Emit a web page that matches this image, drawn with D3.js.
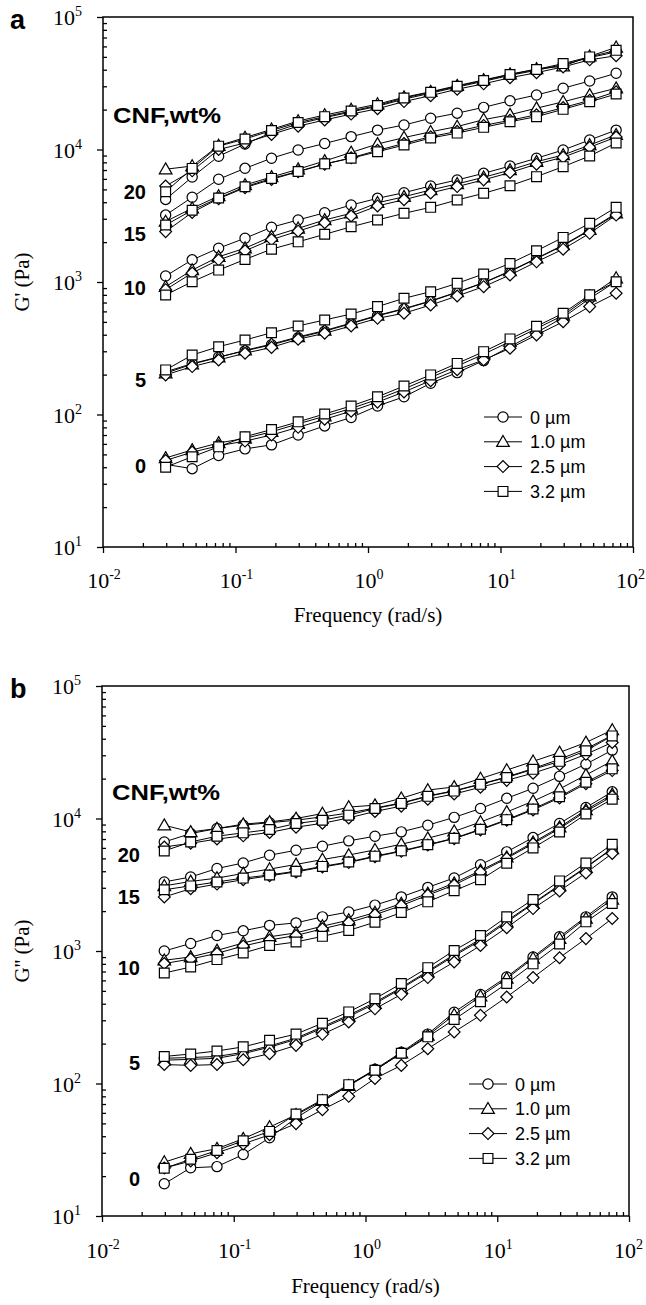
<!DOCTYPE html>
<html>
<head>
<meta charset="utf-8">
<script src="https://cdn.jsdelivr.net/npm/d3@7"></script>
<style>
  body { margin: 0; background: #fff; }
  svg { display: block; }
</style>
</head>
<body>
<svg id="chart" width="646" height="1305"></svg>
<script>
// Angular frequency of the sweep (rad/s), five points per decade
const freq = [0.0297, 0.0471, 0.0746, 0.118, 0.187, 0.297, 0.471, 0.746, 1.18, 1.87,
              2.97, 4.71, 7.46, 11.8, 18.7, 29.7, 47.1, 74.6];

// Particle sizes (series order: circle, triangle, diamond, square)
const sizes = ["0 \u00b5m", "1.0 \u00b5m", "2.5 \u00b5m", "3.2 \u00b5m"];
const shapes = ["circle", "triangle", "diamond", "square"];

// CNF concentration labels, wt%
const cnfLabels = ["0", "5", "10", "15", "20"];

// Axis tick exponents
const xExponents = [-2, -1, 0, 1, 2];
const yExponents = [1, 2, 3, 4, 5];

// Storage modulus G' (Pa): [0 µm, 1.0 µm, 2.5 µm, 3.2 µm]
const storageCNF0 = [
  [42, 39, 49, 55, 59, 70, 82, 95, 116, 136, 172, 207, 255, 325, 415, 540, 750, 1010],
  [47, 54, 61, 66, 74, 85, 97, 111, 130, 156, 190, 232, 285, 355, 445, 560, 780, 1070],
  [45, 52, 58, 63, 70, 80, 92, 106, 124, 148, 180, 218, 258, 316, 398, 501, 652, 822],
  [40, 48, 57, 68, 77, 88, 101, 116, 136, 164, 199, 243, 298, 372, 463, 581, 800, 1005]
];
const storageCNF5 = [
  [210, 242, 272, 302, 336, 380, 425, 485, 555, 625, 715, 835, 985, 1200, 1500, 1880, 2450, 3250],
  [205, 240, 270, 305, 340, 385, 430, 490, 560, 630, 720, 840, 990, 1210, 1510, 1900, 2480, 3300],
  [199, 230, 258, 290, 321, 370, 410, 466, 532, 581, 670, 784, 922, 1130, 1420, 1770, 2330, 3200],
  [217, 281, 325, 365, 414, 466, 517, 573, 652, 753, 845, 977, 1150, 1380, 1720, 2170, 2770, 3660]
];
const storageCNF10 = [
  [1110, 1470, 1800, 2140, 2590, 2940, 3330, 3810, 4280, 4720, 5310, 5890, 6610, 7500, 8590, 9910, 11800, 14000],
  [922, 1230, 1550, 1800, 2200, 2540, 2940, 3300, 3960, 4400, 4950, 5500, 6170, 7000, 8090, 9090, 10800, 12900],
  [875, 1170, 1470, 1720, 2090, 2420, 2800, 3150, 3750, 4180, 4700, 5250, 5900, 6700, 7750, 8750, 10400, 12400],
  [798, 1005, 1230, 1480, 1770, 2010, 2290, 2610, 2940, 3300, 3660, 4160, 4670, 5330, 6240, 7420, 8930, 11200]
];
const storageCNF15 = [
  [3200, 4360, 5960, 7210, 8590, 9910, 11100, 12500, 14000, 15300, 17200, 18800, 20800, 23300, 25800, 29000, 32900, 37600],
  [2860, 3600, 4450, 5400, 6200, 7100, 8200, 9500, 11000, 12300, 13600, 14900, 16800, 18300, 20500, 22900, 25800, 29000],
  [2400, 3350, 4250, 5150, 5950, 6800, 7750, 8650, 9850, 11100, 12500, 13700, 15200, 16600, 18300, 20700, 23500, 27300],
  [2690, 3480, 4300, 5230, 6050, 6830, 7790, 8590, 9620, 10800, 12200, 13300, 14700, 16200, 17700, 20100, 22900, 26200]
];
const storageCNF20 = [
  [4200, 6200, 8900, 11000, 13400, 15600, 17400, 19200, 21200, 24000, 26600, 29600, 32700, 36300, 39600, 43700, 49400, 54500],
  [7100, 7500, 10700, 12300, 14200, 16400, 18200, 20000, 22000, 24800, 27300, 30300, 33500, 37000, 40500, 42500, 50500, 59000],
  [5300, 6900, 10000, 11200, 13000, 15000, 16700, 18500, 20300, 23000, 25500, 28500, 31300, 34800, 38000, 42000, 47500, 51000],
  [4800, 7200, 10600, 12000, 13900, 16000, 17700, 19500, 21500, 24500, 27000, 30000, 33200, 36800, 40200, 44500, 50000, 56000]
];

// Loss modulus G'' (Pa): [0 µm, 1.0 µm, 2.5 µm, 3.2 µm]
const lossCNF0 = [
  [17.5, 23.1, 23.6, 29.1, 38.9, 55, 73, 97, 128, 172, 236, 345, 470, 637, 902, 1280, 1810, 2560],
  [25.5, 29.5, 32.2, 38.3, 46.9, 58, 74, 96, 126, 169, 230, 330, 455, 620, 880, 1240, 1760, 2450],
  [23, 26, 30, 35, 41, 49.8, 63.4, 80, 109, 137, 183, 245, 327, 450, 630, 890, 1240, 1760],
  [22.9, 26.8, 31.2, 37, 43.5, 58.8, 75.5, 98, 126, 169, 225, 304, 414, 569, 800, 1130, 1660, 2280]
];
const lossCNF5 = [
  [155, 157, 160, 172, 192, 220, 268, 328, 410, 530, 705, 940, 1230, 1690, 2300, 3150, 4300, 5950],
  [150, 152, 155, 168, 188, 215, 262, 320, 400, 520, 690, 920, 1200, 1650, 2270, 3100, 4250, 5900],
  [139, 137, 139, 151, 168, 194, 235, 291, 366, 471, 630, 826, 1100, 1500, 2090, 2840, 3880, 5450],
  [160, 167, 176, 189, 212, 236, 285, 347, 436, 568, 749, 1010, 1310, 1810, 2450, 3380, 4620, 6400]
];
const lossCNF10 = [
  [1000, 1140, 1310, 1420, 1560, 1630, 1810, 1970, 2220, 2560, 3020, 3560, 4480, 5600, 7180, 9170, 12100, 15900],
  [851, 902, 1010, 1150, 1280, 1370, 1540, 1710, 1950, 2280, 2720, 3250, 4050, 5100, 6600, 8600, 11600, 15200],
  [804, 870, 960, 1090, 1210, 1310, 1470, 1640, 1880, 2200, 2640, 3150, 3950, 5000, 6450, 8400, 11300, 14700],
  [682, 757, 861, 966, 1100, 1170, 1290, 1430, 1650, 1950, 2350, 2850, 3450, 4600, 6000, 7900, 10800, 14000]
];
const lossCNF15 = [
  [3320, 3620, 4190, 4620, 5280, 5760, 6180, 6780, 7350, 7930, 8900, 10200, 11900, 14200, 16900, 20800, 25700, 32800],
  [3100, 3350, 3550, 3850, 4150, 4500, 4900, 5300, 5800, 6400, 7100, 8000, 9400, 11200, 13500, 16700, 21300, 27200],
  [2560, 2950, 3200, 3450, 3700, 3950, 4300, 4650, 5150, 5650, 6300, 7050, 8200, 9700, 11600, 14300, 18300, 23000],
  [2900, 3100, 3320, 3550, 3750, 4000, 4350, 4700, 5200, 5700, 6350, 7100, 8300, 9800, 11800, 14600, 18800, 23700]
];
const lossCNF20 = [
  [6650, 7700, 8400, 8900, 9300, 9700, 10300, 11000, 12000, 13100, 14800, 16200, 18200, 20600, 23800, 28000, 33500, 42500],
  [8900, 7920, 8400, 9060, 9420, 10000, 10900, 12200, 12600, 14200, 16400, 17300, 20000, 23200, 27000, 31500, 37500, 46500],
  [6100, 6500, 7000, 7400, 7850, 8600, 9200, 10100, 11300, 12400, 14000, 15300, 17200, 19400, 22000, 25500, 30500, 37500],
  [5690, 6650, 7350, 7790, 8260, 9170, 9710, 10600, 11900, 13000, 14700, 16100, 18100, 20400, 23500, 27000, 32500, 42000]
];

const SERIF = "'Liberation Serif', 'Times New Roman', serif";
const SANS = "'Liberation Sans', Arial, Helvetica, sans-serif";

const svg = d3.select("#chart");

const symbolGen = {
  circle: d3.symbol().type(d3.symbolCircle).size(82),
  triangle: d3.symbol().type(d3.symbolTriangle).size(70),
  diamond: d3.symbol().type(d3.symbolSquare).size(70),
  square: d3.symbol().type(d3.symbolSquare).size(96)
};

function drawMarker(g, shape, cx, cy) {
  const p = g.append("path")
    .attr("d", symbolGen[shape]())
    .attr("fill", "#fff")
    .attr("stroke", "#000")
    .attr("stroke-width", 1.2);
  if (shape === "diamond") p.attr("transform", `translate(${cx},${cy}) rotate(45)`);
  else if (shape === "triangle") p.attr("transform", `translate(${cx},${cy + 1})`);
  else p.attr("transform", `translate(${cx},${cy})`);
}

function drawPanel(o) {
  const x = d3.scaleLog().domain([0.01, 100]).range([o.left, o.right]);
  const y = d3.scaleLog().domain([10, 1e5]).range([o.bottom, o.top]);
  const g = svg.append("g");

  // minor ticks (inside), major ticks (outside)
  const minors = [];
  for (let e = -2; e < 2; e++) for (let m = 2; m <= 9; m++) minors.push(m * Math.pow(10, e));
  const yMinors = [];
  for (let e = 1; e < 5; e++) for (let m = 2; m <= 9; m++) yMinors.push(m * Math.pow(10, e));
  const xMajors = xExponents.map(e => Math.pow(10, e));
  const yMajors = yExponents.map(e => Math.pow(10, e));

  const styleAxis = sel => {
    sel.select(".domain").remove();
    sel.selectAll("line").attr("stroke", "#000").attr("stroke-width", 1.3);
  };

  g.append("g").attr("transform", `translate(0,${o.bottom})`)
    .call(d3.axisTop(x).tickValues(minors).tickSize(4).tickFormat(""))
    .call(styleAxis);
  g.append("g").attr("transform", `translate(0,${o.bottom})`)
    .call(d3.axisBottom(x).tickValues(xMajors).tickSize(6).tickFormat(""))
    .call(styleAxis);
  g.append("g").attr("transform", `translate(${o.left},0)`)
    .call(d3.axisRight(y).tickValues(yMinors).tickSize(4).tickFormat(""))
    .call(styleAxis);
  g.append("g").attr("transform", `translate(${o.left},0)`)
    .call(d3.axisLeft(y).tickValues(yMajors).tickSize(6).tickFormat(""))
    .call(styleAxis);

  // frame
  g.append("path")
    .attr("d", `M${o.left},${o.top}H${o.right}V${o.bottom}H${o.left}Z`)
    .attr("fill", "none").attr("stroke", "#000").attr("stroke-width", 1.5);

  // x tick labels (the last one kept inside the page edge)
  xExponents.forEach((e, i) => {
    const last = i === xExponents.length - 1;
    const t = g.append("text")
      .attr("y", o.bottom + o.xLabelDy)
      .attr("font-family", SERIF).attr("font-size", 22);
    if (last) t.attr("x", Math.min(x(Math.pow(10, e)) + 14, 645)).attr("text-anchor", "end");
    else t.attr("x", x(Math.pow(10, e)) + 1).attr("text-anchor", "middle");
    t.append("tspan").text("10");
    t.append("tspan").attr("dy", -9).attr("font-size", 14).text(e);
  });

  // y tick labels
  yExponents.forEach(e => {
    const t = g.append("text")
      .attr("x", o.left - 21).attr("y", y(Math.pow(10, e)) + 8)
      .attr("text-anchor", "end")
      .attr("font-family", SERIF).attr("font-size", 22);
    t.append("tspan").text("10");
    t.append("tspan").attr("dy", -9).attr("font-size", 14).text(e);
  });

  // axis titles
  g.append("text")
    .attr("x", (o.left + o.right) / 2).attr("y", o.bottom + o.xTitleDy)
    .attr("text-anchor", "middle")
    .attr("font-family", SERIF).attr("font-size", 21)
    .text("Frequency (rad/s)");
  g.append("text")
    .attr("transform", `translate(29,${(o.top + o.bottom) / 2}) rotate(-90)`)
    .attr("text-anchor", "middle")
    .attr("font-family", SERIF).attr("font-size", 21)
    .text(o.yTitle);

  // panel letter
  g.append("text")
    .attr("x", 10).attr("y", o.top + 12)
    .attr("font-family", SANS).attr("font-weight", "bold").attr("font-size", 27)
    .text(o.letter);

  // series: line then markers, one series at a time
  const line = d3.line().x((d, i) => x(freq[i])).y(d => y(d));
  o.groups.forEach(group => {
    group.forEach((vals, si) => {
      g.append("path").attr("d", line(vals))
        .attr("fill", "none").attr("stroke", "#000").attr("stroke-width", 1);
      vals.forEach((v, i) => drawMarker(g, shapes[si], x(freq[i]), y(v)));
    });
  });

  // concentration labels
  g.append("text")
    .attr("x", o.cnfX).attr("y", o.cnfY + 8)
    .attr("font-family", SANS).attr("font-weight", "bold").attr("font-size", 22)
    .attr("textLength", 108).attr("lengthAdjust", "spacingAndGlyphs")
    .text("CNF,wt%");
  cnfLabels.forEach((lab, i) => {
    g.append("text")
      .attr("x", o.concX).attr("y", o.concY[i] + 7.5)
      .attr("text-anchor", "end")
      .attr("font-family", SANS).attr("font-weight", "bold").attr("font-size", 20)
      .text(lab);
  });

  // legend
  sizes.forEach((s, i) => {
    const ly = o.legY + i * 24.8;
    g.append("line")
      .attr("x1", o.legX).attr("x2", o.legX + 38)
      .attr("y1", ly).attr("y2", ly)
      .attr("stroke", "#000").attr("stroke-width", 1);
    drawMarker(g, shapes[i], o.legX + 19, ly);
    g.append("text")
      .attr("x", o.legX + 46).attr("y", ly + 6.5)
      .attr("font-family", SANS).attr("font-size", 18)
      .text(s);
  });
}

drawPanel({
  left: 103, right: 633, top: 17, bottom: 547,
  xLabelDy: 41, xTitleDy: 75,
  yTitle: "G' (Pa)", letter: "a",
  groups: [storageCNF0, storageCNF5, storageCNF10, storageCNF15, storageCNF20],
  cnfX: 113, cnfY: 115,
  concX: 146, concY: [465, 379, 287, 233, 191],
  legX: 484, legY: 417
});

drawPanel({
  left: 102, right: 629, top: 686, bottom: 1216,
  xLabelDy: 42, xTitleDy: 77,
  yTitle: "G'' (Pa)", letter: "b",
  groups: [lossCNF0, lossCNF5, lossCNF10, lossCNF15, lossCNF20],
  cnfX: 112, cnfY: 792,
  concX: 140, concY: [1178, 1062, 967, 896, 854],
  legX: 469, legY: 1084
});
</script>
</body>
</html>
